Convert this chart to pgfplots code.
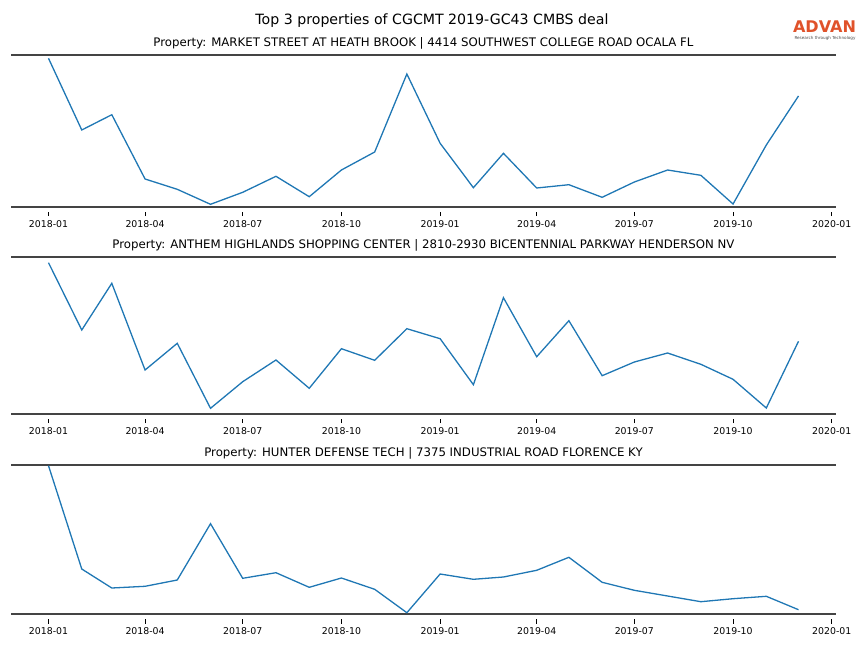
\documentclass[border=0pt]{standalone}
\usepackage{pgfplots}
\pgfplotsset{compat=1.18}
\usepackage{pgfplotstable}
\usepackage{fontspec}
\setmainfont{DejaVu Sans}
\definecolor{mplblue}{HTML}{1F77B4}
\definecolor{spine}{HTML}{444444}
\definecolor{advan}{HTML}{E0522A}

\pgfplotstableread{
d v
0 148.4
31 76.7
59 92.0
90 27.7
120 17.4
151 2.4
181 14.4
212 30.4
243 10.0
273 36.7
304 54.7
334 132.7
365 63.4
396 19.0
424 53.4
455 18.7
485 22.0
516 9.4
546 24.7
577 36.7
608 31.4
638 2.7
669 61.7
699 110.7
}\tA
\pgfplotstableread{
d v
0 151.0
31 83.7
59 130.4
90 43.7
120 70.4
151 5.4
181 32.0
212 53.7
243 25.4
273 65.0
304 53.4
334 85.0
365 75.0
396 29.0
424 116.0
455 57.0
485 93.0
516 38.0
546 51.7
577 60.7
608 49.4
638 34.4
669 5.7
699 72.4
}\tB
\pgfplotstableread{
d v
0 148.3
31 45.0
59 26.0
90 27.7
120 34.0
151 90.3
181 35.7
212 41.3
243 26.7
273 36.0
304 24.7
334 1.3
365 40.0
396 34.7
424 37.0
455 43.7
485 56.7
516 31.7
546 23.7
577 18.0
608 12.3
638 15.3
669 17.7
699 4.3
}\tC

\pgfplotsset{
  myax/.style={
    width=825bp, scale only axis,
    xmin=-34.95, xmax=733.95, ymin=0,
    separate axis lines,
    axis x line*=box,
    y axis line style={draw=none},
    x axis line style={line width=1.6bp, color=spine},
    ytick=\empty,
    xtick={0,90,181,273,365,455,546,638,730},
    xticklabels={2018-01,2018-04,2018-07,2018-10,2019-01,2019-04,2019-07,2019-10,2020-01},
    xtick pos=left,
    tick align=outside,
    major tick length=4.5bp,
    xtick style={line width=0.7bp, color=black, yshift=-5bp},
    xticklabel style={font=\fontsize{9.4}{10}\selectfont, yshift=-5.5bp},
    title style={at={(0.5,1)}, anchor=base, yshift=2.5bp, font=\fontsize{11.8}{13}\selectfont},
    clip=false,
  },
  myline/.style={color=mplblue, line width=1.3bp, mark=none},
}

\begin{document}
\begin{tikzpicture}
\path[use as bounding box] (0,0) rectangle (864bp,-648bp);

\node[font=\fontsize{14.2}{16}\selectfont, anchor=base] at (432bp,-24.5bp) {Top 3 properties of CGCMT 2019-GC43 CMBS deal};

\node[anchor=center, text=advan, inner sep=0] at (824.5bp,-27bp) {\resizebox{63bp}{!}{\bfseries ADVAN}};
\node[anchor=center, text=black!70, inner sep=0] at (825bp,-38.5bp) {\resizebox{61bp}{!}{\fontsize{4}{5}\selectfont Research through Technology}};

\begin{axis}[myax, height=151.7bp, ymax=151.7, at={(11bp,-55bp)}, anchor=north west,
  title={Property: MARKET STREET AT HEATH BROOK | 4414 SOUTHWEST COLLEGE ROAD OCALA FL}]
\addplot[myline] table[x=d, y=v] {\tA};
\end{axis}

\begin{axis}[myax, height=157bp, ymax=157, at={(11bp,-256.7bp)}, anchor=north west,
  title={Property: ANTHEM HIGHLANDS SHOPPING CENTER | 2810-2930 BICENTENNIAL PARKWAY HENDERSON NV}]
\addplot[myline] table[x=d, y=v] {\tB};
\end{axis}

\begin{axis}[myax, height=149bp, ymax=149, at={(11bp,-465bp)}, anchor=north west,
  title={Property: HUNTER DEFENSE TECH | 7375 INDUSTRIAL ROAD FLORENCE KY}]
\addplot[myline] table[x=d, y=v] {\tC};
\end{axis}
\end{tikzpicture}
\end{document}
